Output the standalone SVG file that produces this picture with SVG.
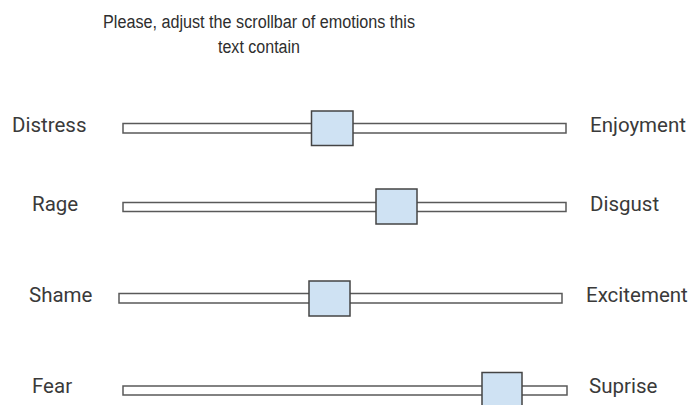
<svg xmlns="http://www.w3.org/2000/svg" width="694" height="405" viewBox="0 0 694 405">
  <style>
    .title { font-family: "Liberation Sans", Arial, sans-serif; font-size: 18px; fill: #2e2e2e; text-anchor: middle; }
    .label { font-family: Roboto, "Liberation Sans", sans-serif; font-size: 20.5px; fill: #3a3a3a; }
    .bar { fill: #ffffff; stroke: #595959; stroke-width: 1.5; }
    .knob { fill: #cfe2f3; stroke: #444444; stroke-width: 1.5; }
  </style>
  <rect width="694" height="405" fill="#ffffff"/>
  <g id="title">
    <text class="title" x="259" y="28" textLength="312" lengthAdjust="spacingAndGlyphs">Please, adjust the scrollbar of emotions this</text>
    <text class="title" x="259" y="53" textLength="82" lengthAdjust="spacingAndGlyphs">text contain</text>
  </g>
  <g id="slider-distress">
    <text class="label" x="12" y="132">Distress</text>
    <rect class="bar" x="123" y="123.5" width="443" height="9.5"/>
    <rect class="knob" x="311.5" y="111" width="41.5" height="34.5"/>
    <text class="label" x="590" y="132">Enjoyment</text>
  </g>
  <g id="slider-rage">
    <text class="label" x="32" y="211">Rage</text>
    <rect class="bar" x="123" y="202.5" width="443" height="9"/>
    <rect class="knob" x="376" y="189" width="41" height="35"/>
    <text class="label" x="590" y="211">Disgust</text>
  </g>
  <g id="slider-shame">
    <text class="label" x="29" y="302">Shame</text>
    <rect class="bar" x="119" y="293.5" width="443" height="9.5"/>
    <rect class="knob" x="309" y="281" width="41" height="35"/>
    <text class="label" x="586" y="302">Excitement</text>
  </g>
  <g id="slider-fear">
    <text class="label" x="32" y="393">Fear</text>
    <rect class="bar" x="123" y="386" width="444" height="9"/>
    <rect class="knob" x="482" y="372.5" width="40" height="35"/>
    <text class="label" x="589" y="393">Suprise</text>
  </g>
  <g id="connectors"/>
</svg>
